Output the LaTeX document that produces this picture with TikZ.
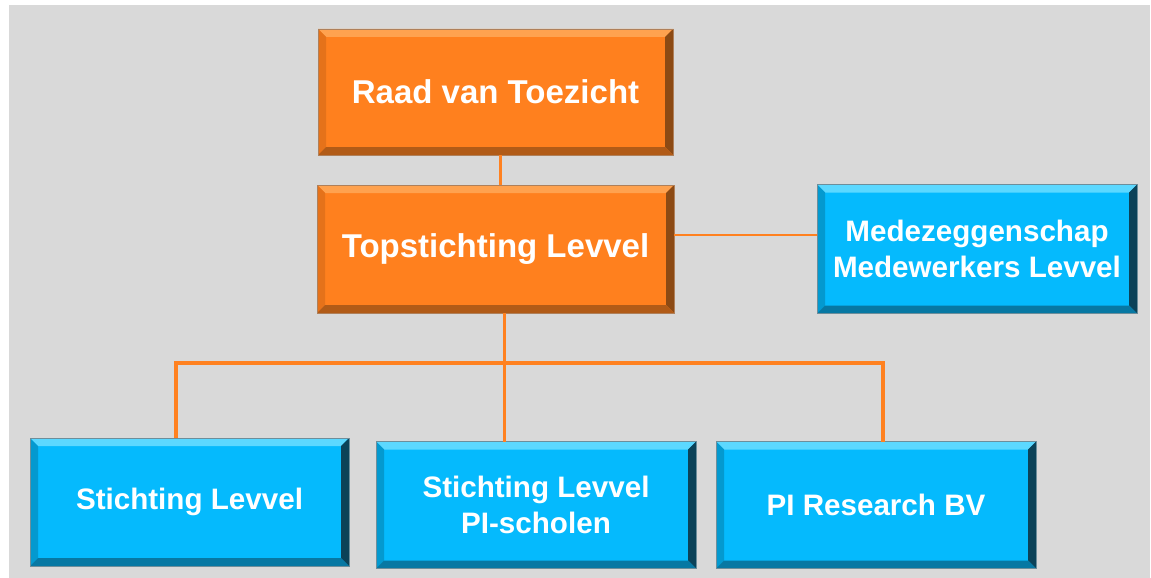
\documentclass[tikz,border=0pt]{standalone}
\usepackage{fontspec}
\setmainfont{Liberation Sans}
\usepackage{tikz}
\usetikzlibrary{positioning}

\definecolor{bggray}{HTML}{D9D9D9}
\definecolor{orgbase}{HTML}{FF801E}
\definecolor{orgtop}{HTML}{FFA24F}
\definecolor{orgleft}{HTML}{E5721A}
\definecolor{orgright}{HTML}{8C4A14}
\definecolor{orgbot}{HTML}{B15B17}
\definecolor{bluebase}{HTML}{05BAFD}
\definecolor{bluetop}{HTML}{5CD8FF}
\definecolor{blueleft}{HTML}{0499CF}
\definecolor{blueright}{HTML}{0B4258}
\definecolor{bluebot}{HTML}{0778A3}
\definecolor{linecol}{HTML}{FF8120}

\tikzset{
    bevel/.style n args={4}{path picture={
        \coordinate (bnw) at (path picture bounding box.north west);
        \coordinate (bne) at (path picture bounding box.north east);
        \coordinate (bsw) at (path picture bounding box.south west);
        \coordinate (bse) at (path picture bounding box.south east);
        \fill[#1] (bnw) -- (bne) -- ([xshift=-8pt,yshift=-8pt]bne) -- ([xshift=8pt,yshift=-8pt]bnw) -- cycle;
        \fill[#2] (bnw) -- (bsw) -- ([xshift=8pt,yshift=8pt]bsw) -- ([xshift=8pt,yshift=-8pt]bnw) -- cycle;
        \fill[#3] (bne) -- (bse) -- ([xshift=-8pt,yshift=8pt]bse) -- ([xshift=-8pt,yshift=-8pt]bne) -- cycle;
        \fill[#4] (bsw) -- (bse) -- ([xshift=-8pt,yshift=8pt]bse) -- ([xshift=8pt,yshift=8pt]bsw) -- cycle;
    }}
}

\begin{document}
\begin{tikzpicture}[
    x=1pt, y=-1pt,
    orgbox/.style={rectangle, inner sep=0pt, outer sep=0pt, align=center, text=white,
        font=\fontsize{33}{40}\selectfont\bfseries, fill=orgbase, draw=orgright!70, line width=0.6pt,
        bevel={orgtop}{orgleft}{orgright}{orgbot}},
    bluebox/.style={rectangle, inner sep=0pt, outer sep=0pt, align=center, text=white,
        font=\fontsize{29.6}{36.5}\selectfont\bfseries, fill=bluebase, draw=blueright!60, line width=0.6pt,
        minimum width=320pt, minimum height=127pt,
        bevel={bluetop}{blueleft}{blueright}{bluebot}},
    link/.style={draw=linecol, line width=3.5pt},
    thinlink/.style={draw=linecol, line width=2.5pt}
]
    % canvas
    \useasboundingbox[fill=white] (0,0) rectangle (1151,578);
    \fill[bggray] (9,5) rectangle (1150,578);

    % orange column
    \node[orgbox, minimum width=355pt, minimum height=126pt] (raad) at (495.5,92) {Raad van Toezicht};
    \node[orgbox, minimum width=357pt, minimum height=128pt, below=30pt of raad] (topst) {Topstichting Levvel};

    % participation council
    \node[bluebox, minimum height=129pt, right=143pt of topst] (mede) {Medezeggenschap\\Medewerkers Levvel};

    % foundations
    \node[bluebox, minimum width=319pt, minimum height=128pt] (stl) at (189.5,502) {Stichting Levvel};
    \node[bluebox, right=27pt of stl, yshift=-3pt] (stpi) {Stichting Levvel\\PI-scholen};
    \node[bluebox, right=20pt of stpi] (pires) {PI Research BV};

    % Connectors
    \coordinate (bus) at (504.5,363);
    \draw[link] ([xshift=5pt]raad.south) -- ([xshift=5pt]topst.north);
    \draw[thinlink] ([yshift=14pt]topst.east) -- ([yshift=14pt]topst.east -| mede.west);
    \draw[link] ([xshift=9pt]topst.south) -- ([xshift=9pt]topst.south |- stpi.north);
    \draw[link] ([xshift=-13.5pt]stl.north) |- (bus) -| ([xshift=7pt]pires.north);

\end{tikzpicture}
\end{document}
